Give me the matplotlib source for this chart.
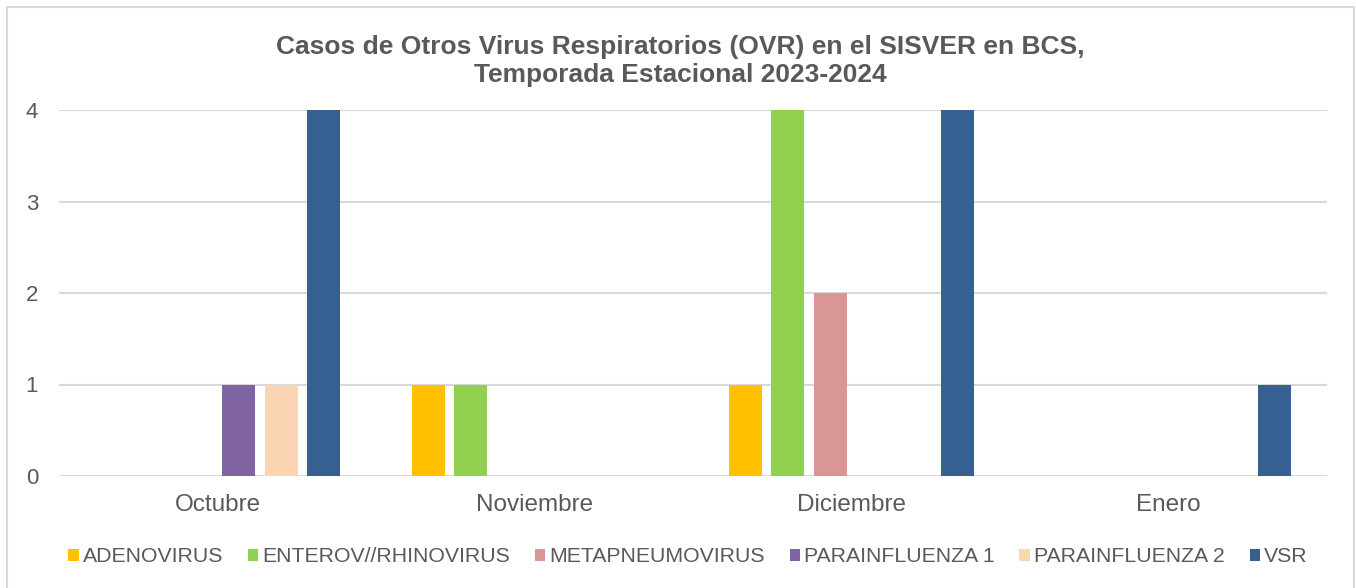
import matplotlib.pyplot as plt
import numpy as np
from matplotlib.patches import Rectangle

plt.rcParams['font.family'] = ['Liberation Sans', 'DejaVu Sans']

meses = ['Octubre', 'Noviembre', 'Diciembre', 'Enero']
series = ['ADENOVIRUS', 'ENTEROV//RHINOVIRUS', 'METAPNEUMOVIRUS',
          'PARAINFLUENZA 1', 'PARAINFLUENZA 2', 'VSR']
adenovirus = [0, 1, 1, 0]
enterov = [0, 1, 4, 0]
metapneumo = [0, 0, 2, 0]
parainf1 = [1, 0, 0, 0]
parainf2 = [1, 0, 0, 0]
vsr = [4, 0, 4, 1]
valores = [adenovirus, enterov, metapneumo, parainf1, parainf2, vsr]
colores = ['#FFC000', '#92D050', '#DA9694', '#8064A2', '#FCD5B4', '#366092']
gris = '#595959'

fig = plt.figure(figsize=(13.56, 5.88), dpi=100)
ax = fig.add_axes([59 / 1356, 112 / 588, 1268 / 1356, 366 / 588])

x = np.arange(len(meses))
paso = 0.134
for i, (nombre, vals, col) in enumerate(zip(series, valores, colores)):
    ax.bar(x + (i - 2.5) * paso, vals, width=0.105, color=col, label=nombre,
           linewidth=0, zorder=3)

ax.set_xlim(-0.5, 3.5)
ax.set_ylim(0, 4)
ax.set_yticks([0, 1, 2, 3, 4])
ax.set_xticks(x)
ax.set_xticklabels(meses)
ax.grid(axis='y', color='#D9D9D9', linewidth=1.5, zorder=0)
for s in ax.spines.values():
    s.set_visible(False)
ax.tick_params(axis='both', length=0, colors=gris)
ax.tick_params(axis='y', labelsize=16, pad=15)
ax.tick_params(axis='x', labelsize=17.5, pad=13)

fig.suptitle('Casos de Otros Virus Respiratorios (OVR) en el SISVER en BCS,\nTemporada Estacional 2023-2024',
             x=680 / 1356, y=1 - 35 / 588, va='top', fontsize=19, fontweight='bold',
             color=gris, linespacing=1.2)

fig.legend(loc='center', bbox_to_anchor=(688 / 1356, 1 - 557 / 588), ncol=6,
           frameon=False, fontsize=15.3, handlelength=0.5, handleheight=0.5,
           handletextpad=0.2, columnspacing=1.15, labelcolor=gris)

fig.patches.append(Rectangle((7 / 1356, -0.01), 1347 / 1356, 1 - 7 / 588 + 0.01,
                             transform=fig.transFigure, fill=False,
                             edgecolor='#D9D9D9', linewidth=1.5))

fig.savefig('out.png', dpi=100)
